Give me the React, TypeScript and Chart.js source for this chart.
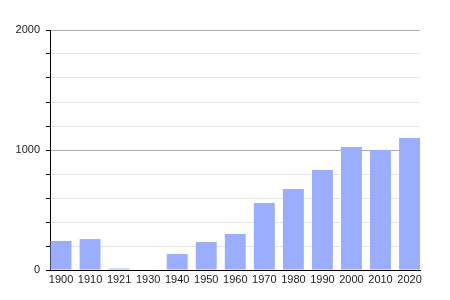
import React, { useEffect, useRef } from "react";
import { Chart, registerables } from "chart.js";

Chart.register(...registerables);

const years = ["1900", "1910", "1921", "1930", "1940", "1950", "1960", "1970", "1980", "1990", "2000", "2010", "2020"];
const population = [242, 258, 12, 0, 133, 233, 300, 558, 675, 833, 1025, 1000, 1100];
const yMax = 2000;
const yStep = 200;
const labeledTicks = [0, 1000, 2000];

export default function App() {
  const ref = useRef<HTMLCanvasElement | null>(null);

  useEffect(() => {
    const canvas = ref.current;
    if (!canvas) return;
    const chart = new Chart(canvas, {
      type: "bar",
      data: {
        datasets: [
          {
            data: population.map((v, i) => ({ x: i, y: v })),
            backgroundColor: "#9aadff",
            borderWidth: 0,
            barPercentage: 0.72,
            categoryPercentage: 1,
          },
        ],
      },
      options: {
        animation: false,
        responsive: false,
        devicePixelRatio: 1,
        layout: { padding: { top: 30, right: 30, left: 0, bottom: 0 } },
        plugins: { legend: { display: false }, tooltip: { enabled: false } },
        scales: {
          x: {
            type: "linear",
            offset: false,
            min: -0.38,
            max: years.length - 1 + 0.36,
            grid: { display: false, drawTicks: false, offset: false },
            border: { display: true, color: "#000", width: 1 },
            afterBuildTicks: (s: any) => {
              s.ticks = years.map((_, i) => ({ value: i }));
            },
            ticks: {
              color: "#222",
              font: { family: "Liberation Sans, Arial, sans-serif", size: 11 },
              padding: 3,
              maxRotation: 0,
              autoSkip: false,
              callback: (v: any) => years[Number(v)] ?? "",
            },
            afterFit: (s: any) => {
              s.height = 30;
            },
          },
          y: {
            min: 0,
            max: yMax,
            border: { display: true, color: "#000", width: 1 },
            grid: {
              color: (c: any) => (c.tick && c.tick.value % 1000 === 0 ? "#aaaaaa" : "#e6e6e6"),
              tickColor: "#000",
              tickLength: 4,
            },
            ticks: {
              stepSize: yStep,
              color: "#222",
              font: { family: "Liberation Sans, Arial, sans-serif", size: 11 },
              padding: 6,
              callback: (v: any) => (labeledTicks.includes(Number(v)) ? String(v) : ""),
            },
            afterFit: (s: any) => {
              s.width = 50;
            },
          },
        },
      },
    });
    return () => chart.destroy();
  }, []);

  return (
    <div style={{ position: "absolute", left: 0, top: 0, width: 450, height: 300, background: "#fff" }}>
      <canvas ref={ref} width={450} height={300} style={{ width: 450, height: 300 }} />
    </div>
  );
}
